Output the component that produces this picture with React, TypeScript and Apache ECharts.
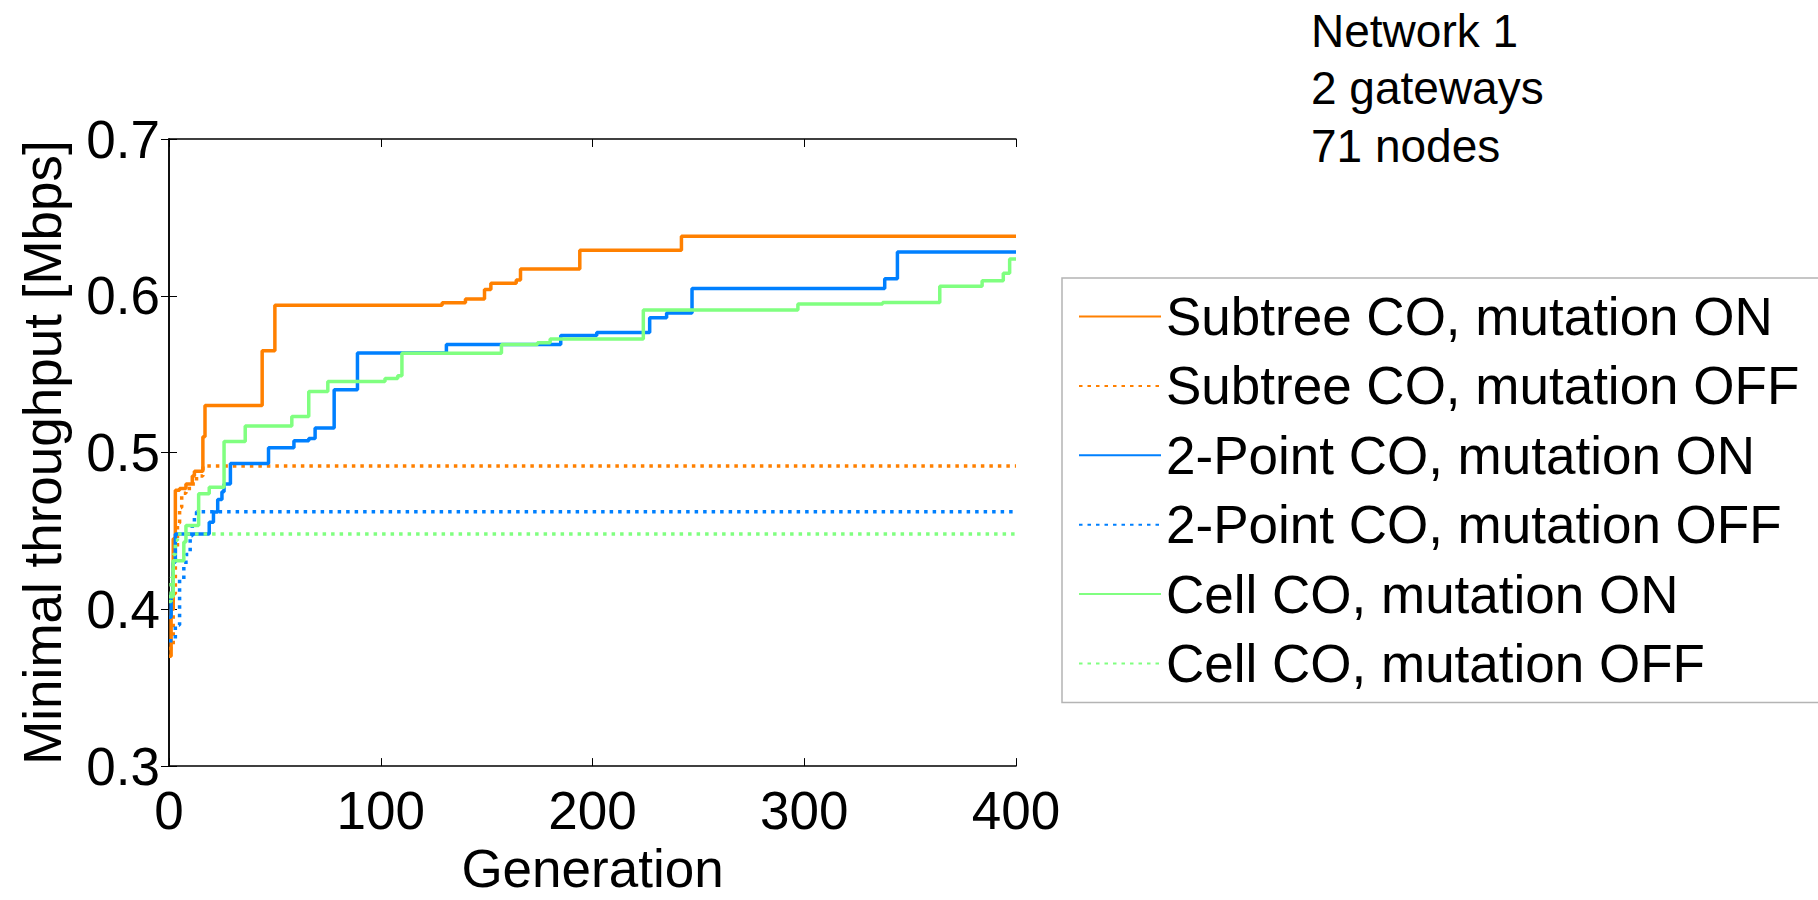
import React, { useEffect, useRef } from "react";
import * as echarts from "echarts";

// Generation ticks / value ticks
const xTicks = [0, 100, 200, 300, 400];
const yTicks = [0.3, 0.4, 0.5, 0.6, 0.7];

const seriesNames = [
  "Subtree CO, mutation ON",
  "Subtree CO, mutation OFF",
  "2-Point CO, mutation ON",
  "2-Point CO, mutation OFF",
  "Cell CO, mutation ON",
  "Cell CO, mutation OFF",
];

// [generation, minimal throughput] at each change (value holds until next point)
const subtreeOn: [number, number][] = [
  [0, 0.37], [1, 0.4], [2, 0.445], [3, 0.476], [5, 0.477], [8, 0.48], [11, 0.485], [12, 0.488],
  [16, 0.51], [17, 0.53], [44, 0.565], [50, 0.594], [129, 0.5955], [140, 0.598], [149, 0.604],
  [152, 0.608], [164, 0.61], [166, 0.617], [194, 0.629], [242, 0.638], [400, 0.638],
];
const subtreeOff: [number, number][] = [
  [0, 0.375], [2, 0.41], [3, 0.44], [4, 0.455], [5, 0.465], [6, 0.474], [8, 0.477], [11, 0.48],
  [13, 0.485], [16, 0.4915], [400, 0.4915],
];
const pointOn: [number, number][] = [
  [0, 0.395], [1, 0.41], [2, 0.43], [3, 0.448], [19, 0.4556], [21, 0.462], [23, 0.47], [25, 0.475],
  [26, 0.48], [29, 0.493], [47, 0.503], [59, 0.5075], [66, 0.509], [69, 0.5157], [78, 0.54],
  [89, 0.5635], [131, 0.569], [185, 0.5747], [202, 0.5765], [227, 0.586], [235, 0.589],
  [247, 0.6046], [338, 0.6108], [344, 0.628], [400, 0.628],
];
const pointOff: [number, number][] = [
  [0, 0.38], [3, 0.39], [5, 0.419], [7, 0.427], [8, 0.435], [10, 0.447], [11, 0.4545],
  [12, 0.4597], [13, 0.4622], [400, 0.4622],
];
const cellOn: [number, number][] = [
  [0, 0.408], [2, 0.431], [7, 0.443], [8, 0.4535], [14, 0.4737], [19, 0.4779], [26, 0.507],
  [36, 0.517], [58, 0.523], [66, 0.539], [75, 0.5453], [102, 0.5473], [108, 0.549], [110, 0.5634],
  [157, 0.5689], [174, 0.57], [180, 0.5725], [224, 0.591], [297, 0.5947], [337, 0.5957],
  [364, 0.606], [384, 0.6096], [394, 0.6143], [397, 0.6235], [400, 0.6235],
];
const cellOff: [number, number][] = [
  [0, 0.405], [1, 0.42], [2, 0.435], [3, 0.444], [4, 0.448], [400, 0.448],
];

const seriesData = [subtreeOn, subtreeOff, pointOn, pointOff, cellOn, cellOff];
const seriesColors = ["#ff8000", "#ff8000", "#0080ff", "#0080ff", "#80ff80", "#80ff80"];
const seriesDotted = [false, true, false, true, false, true];

const infoLines = ["Network 1", "2 gateways", "71 nodes"];

const FONT = "'Liberation Sans', Arial, Helvetica, sans-serif";

export default function App() {
  const ref = useRef<HTMLDivElement>(null);
  useEffect(() => {
    document.body.style.margin = "0";
    if (!ref.current) return;
    const chart = echarts.init(ref.current, null, { renderer: "svg" });
    const axisLine = { show: true, lineStyle: { color: "#000", width: 1.5 } };
    const tick = { show: true, inside: true, length: 8, lineStyle: { color: "#000", width: 1 } };
    const option: any = {
      animation: false,
      backgroundColor: "#fff",
      textStyle: { fontFamily: FONT },
      grid: { left: 169, right: 802, top: 139, bottom: 115, containLabel: false },
      xAxis: [
        {
          type: "value",
          min: xTicks[0],
          max: xTicks[xTicks.length - 1],
          interval: 100,
          name: "Generation",
          nameLocation: "middle",
          nameGap: 62,
          nameTextStyle: { fontSize: 53, color: "#000", fontFamily: FONT },
          axisLine,
          axisTick: tick,
          axisLabel: { fontSize: 53, color: "#000", margin: 18, fontFamily: FONT },
          splitLine: { show: false },
        },
        {
          type: "value",
          position: "top",
          min: xTicks[0],
          max: xTicks[xTicks.length - 1],
          interval: 100,
          axisLine,
          axisTick: tick,
          axisLabel: { show: false },
          splitLine: { show: false },
        },
      ],
      yAxis: [
        {
          type: "value",
          min: yTicks[0],
          max: yTicks[yTicks.length - 1],
          interval: 0.1,
          name: "Minimal throughput [Mbps]",
          nameLocation: "middle",
          nameRotate: 90,
          nameGap: 100,
          nameTextStyle: { fontSize: 53, color: "#000", fontFamily: FONT },
          axisLine,
          axisTick: tick,
          axisLabel: {
            fontSize: 53,
            color: "#000",
            margin: 9,
            fontFamily: FONT,
            formatter: (v: number) => v.toFixed(1),
          },
          splitLine: { show: false },
        },
        {
          type: "value",
          position: "right",
          min: yTicks[0],
          max: yTicks[yTicks.length - 1],
          interval: 0.1,
          axisLine,
          axisTick: tick,
          axisLabel: { show: false },
          splitLine: { show: false },
        },
      ],
      legend: {
        orient: "vertical",
        left: 1062,
        top: 278,
        align: "left",
        padding: [8.5, 40, 9, 16],
        itemGap: 9.4,
        itemWidth: 82,
        itemHeight: 1,
        borderColor: "#b4b4b4",
        borderWidth: 1.5,
        backgroundColor: "#fff",
        textStyle: { fontSize: 53, color: "#000", fontFamily: FONT, lineHeight: 60 },
        data: seriesNames,
      },
      graphic: [
        {
          type: "text",
          left: 1311,
          top: 2,
          style: {
            text: infoLines.join("\n"),
            fontSize: 46,
            fontFamily: FONT,
            lineHeight: 57.5,
            fill: "#000",
          },
        },
      ],
      series: seriesNames.map((name, i) => ({
        name,
        type: "line",
        xAxisIndex: 0,
        yAxisIndex: 0,
        step: "end",
        symbol: "none",
        showSymbol: false,
        clip: true,
        data: seriesData[i],
        color: seriesColors[i],
        lineStyle: {
          color: seriesColors[i],
          width: 3.5,
          type: seriesDotted[i] ? [3.5, 5] : "solid",
          cap: "butt",
        },
        z: 2 + i,
      })),
    };
    chart.setOption(option);
    return () => chart.dispose();
  }, []);
  return <div ref={ref} style={{ width: 1818, height: 900 }} />;
}
